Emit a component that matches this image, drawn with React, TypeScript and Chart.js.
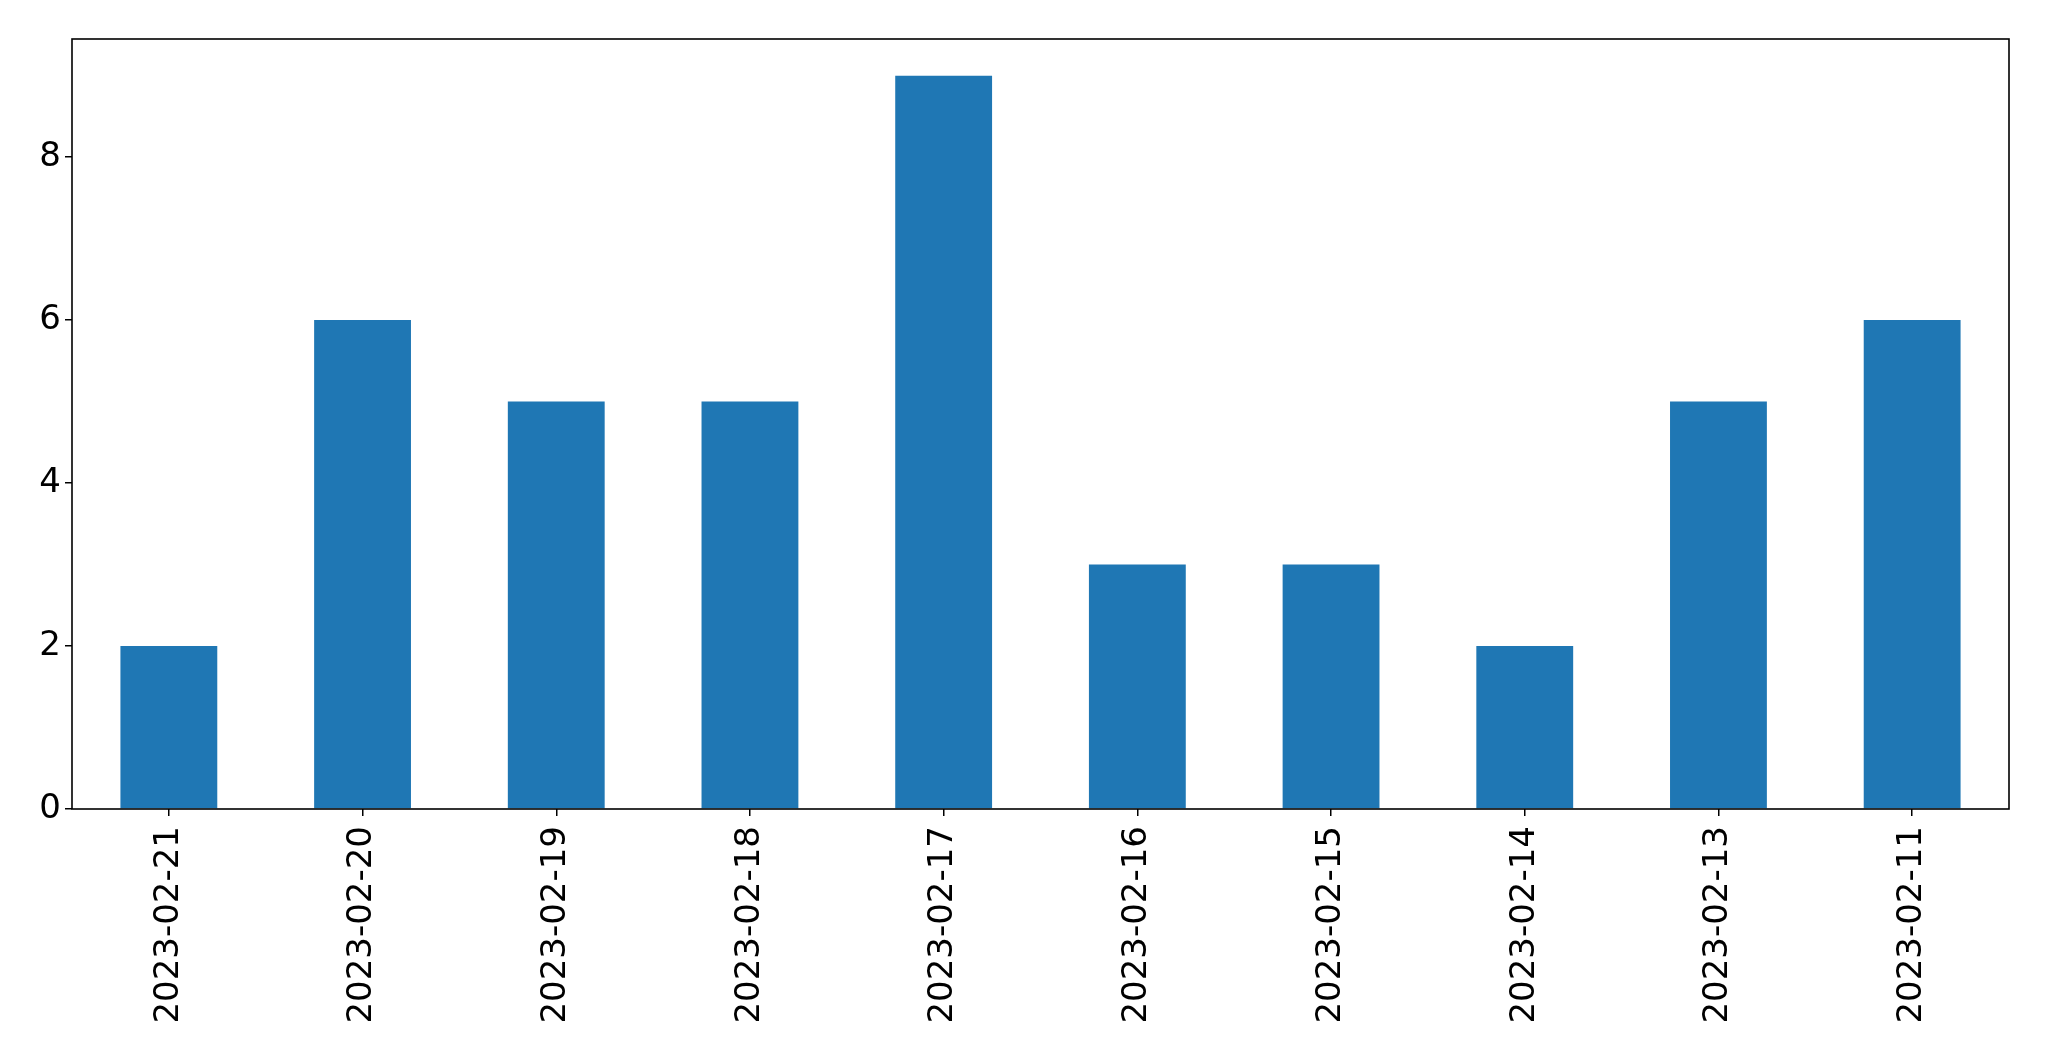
import React, { useEffect, useRef } from "react";
import { Chart, registerables } from "chart.js";

Chart.register(...registerables);

const CATEGORIES = [
  "2023-02-21",
  "2023-02-20",
  "2023-02-19",
  "2023-02-18",
  "2023-02-17",
  "2023-02-16",
  "2023-02-15",
  "2023-02-14",
  "2023-02-13",
  "2023-02-11",
];
const VALUES = [2, 6, 5, 5, 9, 3, 3, 2, 5, 6];
const Y_TICKS = [0, 2, 4, 6, 8];
const Y_MAX = 9.45;

const W = 2049;
const H = 1061;
const AREA = { left: 72, top: 39, right: 2009, bottom: 809 };

const framePlugin = {
  id: "frame",
  afterDatasetsDraw(chart: any) {
    const { ctx, chartArea } = chart;
    ctx.save();
    ctx.strokeStyle = "#000";
    ctx.lineWidth = 1.6;
    ctx.strokeRect(
      chartArea.left,
      chartArea.top,
      chartArea.right - chartArea.left,
      chartArea.bottom - chartArea.top
    );
    ctx.restore();
  },
};

export default function App() {
  const ref = useRef<HTMLCanvasElement | null>(null);

  useEffect(() => {
    if (!ref.current) return;
    const chart = new Chart(ref.current, {
      type: "bar",
      data: {
        labels: CATEGORIES,
        datasets: [
          {
            data: VALUES,
            backgroundColor: "#1f77b4",
            borderWidth: 0,
            barPercentage: 0.5,
            categoryPercentage: 1,
          },
        ],
      },
      options: {
        animation: false,
        responsive: false,
        maintainAspectRatio: false,
        devicePixelRatio: 1,
        layout: {
          padding: { left: 0, top: AREA.top, right: W - AREA.right, bottom: 0 },
        },
        plugins: {
          legend: { display: false },
          tooltip: { enabled: false },
          title: { display: false },
        },
        scales: {
          x: {
            type: "category",
            offset: true,
            grid: {
              display: true,
              drawOnChartArea: false,
              drawTicks: true,
              tickLength: 7,
              color: "#000",
              lineWidth: 1.5,
              offset: false,
            },
            border: { display: false },
            ticks: {
              color: "#000",
              font: { family: "DejaVu Sans", size: 34 },
              maxRotation: 90,
              minRotation: 90,
              padding: 10,
              autoSkip: false,
            },
            afterFit(scale: any) {
              scale.height = H - AREA.bottom;
            },
          },
          y: {
            type: "linear",
            min: 0,
            max: Y_MAX,
            grid: {
              display: true,
              drawOnChartArea: false,
              drawTicks: true,
              tickLength: 7,
              color: "#000",
              lineWidth: 1.5,
            },
            border: { display: false },
            ticks: {
              color: "#000",
              font: { family: "DejaVu Sans", size: 34 },
              padding: 4,
            },
            afterBuildTicks(scale: any) {
              scale.ticks = Y_TICKS.map((v) => ({ value: v }));
            },
            afterFit(scale: any) {
              scale.width = AREA.left;
            },
          },
        },
      },
      plugins: [framePlugin],
    });
    return () => chart.destroy();
  }, []);

  return (
    <div style={{ position: "fixed", left: 0, top: 0, width: W, height: H, background: "#fff" }}>
      <canvas ref={ref} width={W} height={H} style={{ width: W, height: H, display: "block" }} />
    </div>
  );
}
